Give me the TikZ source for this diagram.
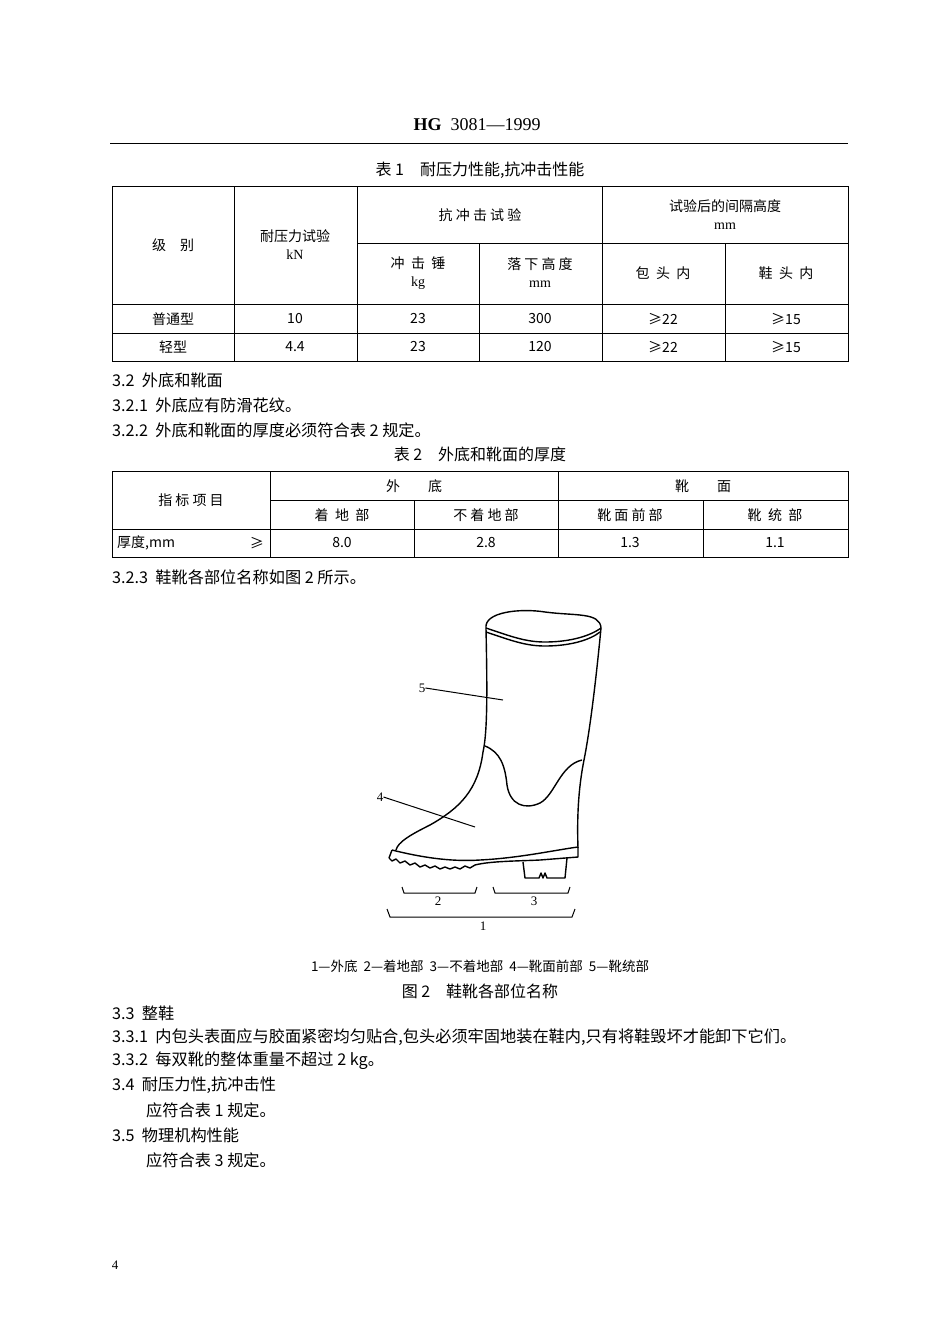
\documentclass[tikz,border=0pt]{standalone}
\usepackage{fontspec}
\setmainfont{Liberation Serif}
\newfontfamily\cjk{Noto Sans CJK SC}
\begin{document}
\begin{tikzpicture}[x=1pt,y=-1pt,
 body/.style={anchor=west,inner sep=0pt,font=\cjk\fontsize{16.2}{16}\selectfont},
 cell/.style={inner sep=0pt,font=\cjk\fontsize{14}{14}\selectfont,align=center},
 tline/.style={line width=0.9pt},
 boot/.style={line width=1.4pt,line join=round}]
\useasboundingbox (0,0) rectangle (950,1344);
% header
\node[inner sep=0pt,font=\fontsize{18}{18}\selectfont] (hdr) at (477,125) {\textbf{HG}\ \ 3081—1999};
\draw[line width=1pt] (110,143) -- (848,143);
\node[cell,font=\cjk\fontsize{16}{16}\selectfont] (t1cap) at (480,170) {表 1\quad 耐压力性能,抗冲击性能};
% table 1
\draw[tline] (112,186) rectangle (848,361);
\foreach \x in {234,357,602} \draw[tline] (\x,186) -- (\x,361);
\foreach \x in {479,725} \draw[tline] (\x,243) -- (\x,361);
\draw[tline] (357,243) -- (848,243);
\draw[tline] (112,304) -- (848,304);
\draw[tline] (112,333) -- (848,333);
\node[cell] (a1) at (173,245) {级\quad 别};
\node[cell] (a2) at (295,245) {耐压力试验\\[4pt]\rmfamily kN};
\node[cell] (a3) at (480,215) {抗 冲 击 试 验};
\node[cell] (a4) at (725,215) {试验后的间隔高度\\[4pt]\rmfamily mm};
\node[cell] (a5) at (418,273) {冲\ \ 击\ \ 锤\\[4pt]\rmfamily kg};
\node[cell] (a6) at (540,273) {落 下 高 度\\[4pt]\rmfamily mm};
\node[cell] (a7) at (663,273) {包\ \ 头\ \ 内};
\node[cell] (a8) at (786,273) {鞋\ \ 头\ \ 内};
\node[cell] (b1) at (173,319) {普通型};
\node[cell] (c1) at (173,347) {轻型};
\foreach \t [count=\i] in {10,23,300,≥22,≥15} {
  \pgfmathsetmacro\xx{{295,418,540,663,786}[\i-1]}
  \node[cell] (b\i x) at (\xx,319) {\t};}
\foreach \t [count=\i] in {4.4,23,120,≥22,≥15} {
  \pgfmathsetmacro\xx{{295,418,540,663,786}[\i-1]}
  \node[cell] (c\i x) at (\xx,347) {\t};}
% text
\node[body] (s32) at (112,380) {3.2\ \ 外底和靴面};
\node[body] (s321) at (112,405) {3.2.1\ \ 外底应有防滑花纹。};
\node[body] (s322) at (112,430) {3.2.2\ \ 外底和靴面的厚度必须符合表 2 规定。};
\node[cell,font=\cjk\fontsize{16}{16}\selectfont] (t2cap) at (480,454) {表 2\quad 外底和靴面的厚度};
% table 2
\draw[tline] (112,471) rectangle (848,557);
\draw[tline] (270,471) -- (270,557);
\draw[tline] (558,471) -- (558,557);
\draw[tline] (414,500) -- (414,557);
\draw[tline] (703,500) -- (703,557);
\draw[tline] (270,500) -- (848,500);
\draw[tline] (112,529) -- (848,529);
\node[cell] (d1) at (191,500) {指 标 项 目};
\node[cell] (d2) at (414,486) {外\qquad 底};
\node[cell] (d3) at (703,486) {靴\qquad 面};
\node[cell] (d4) at (342,515) {着\ \ 地\ \ 部};
\node[cell] (d5) at (486,515) {不 着 地 部};
\node[cell] (d6) at (630,515) {靴 面 前 部};
\node[cell] (d7) at (775,515) {靴\ \ 统\ \ 部};
\node[cell,anchor=west] (e1) at (117,543) {厚度,mm};
\node[cell,anchor=east] (e1b) at (264,543) {≥};
\node[cell] (e2) at (342,543) {8.0};
\node[cell] (e3) at (486,543) {2.8};
\node[cell] (e4) at (630,543) {1.3};
\node[cell] (e5) at (775,543) {1.1};
\node[body] (s323) at (112,577) {3.2.3\ \ 鞋靴各部位名称如图 2 所示。};
% boot
\draw[boot] (486,628) .. controls (484,612) and (520,608) .. (545,612) .. controls (575,616) and (600,612) .. (601,628);
\draw[boot] (486,628) .. controls (510,636) and (525,642) .. (545,642) .. controls (570,642) and (590,636) .. (601,628);
\draw[boot] (486,632) .. controls (510,640) and (525,646) .. (545,646) .. controls (570,646) and (590,640) .. (600,632);
\draw[boot] (486,628) .. controls (487,680) and (488,730) .. (483,752) .. controls (478,790) and (460,808) .. (430,825) .. controls (410,835) and (398,842) .. (396,850);
\draw[boot] (601,628) .. controls (596,680) and (590,730) .. (584,760) .. controls (578,790) and (577,820) .. (578,848);
\draw[boot] (485,746) .. controls (500,752) and (505,765) .. (507,785) .. controls (510,805) and (525,810) .. (540,803) .. controls (555,795) and (560,765) .. (582,760);
% sole
\draw[boot] (392,850) .. controls (420,857) and (450,862) .. (480,860) .. controls (520,858) and (555,850) .. (578,847);
\draw[boot] (392,850) -- (389,858);
\draw[boot] (389,858) -- (392,861) -- (396,859) -- (400,863) -- (405,861) -- (410,865) -- (415,863) -- (420,867) -- (425,865) -- (430,868) -- (435,866) -- (440,869) -- (445,867) -- (450,869) -- (455,867) -- (460,869) -- (465,866) -- (470,868) -- (475,865) .. controls (490,861) and (520,861) .. (540,860) -- (578,857) -- (578,847);
\draw[boot] (523,862) -- (525,878) -- (539,878) -- (541,873) -- (543,878) -- (545,873) -- (547,878) -- (565,878) -- (567,858);
% labels
\node[cell,font=\rmfamily\fontsize{13}{13}\selectfont] (l5) at (422,688) {5};
\node[cell,font=\rmfamily\fontsize{13}{13}\selectfont] (l4) at (380,797) {4};
\coordinate (p5) at (503,700);
\coordinate (p4) at (475,827);
\draw[line width=1pt] (l5.east) -- (p5);
\draw[line width=1pt] (l4.east) -- (p4);
\draw[line width=1pt] (402,887) -- (404,893) -- (475,893) -- (477,887);
\draw[line width=1pt] (493,887) -- (495,893) -- (568,893) -- (570,887);
\draw[line width=1pt] (387,909) -- (390,917) -- (572,917) -- (575,909);
\node[cell,font=\rmfamily\fontsize{13}{13}\selectfont] (l2) at (438,901) {2};
\node[cell,font=\rmfamily\fontsize{13}{13}\selectfont] (l3) at (534,901) {3};
\node[cell,font=\rmfamily\fontsize{13}{13}\selectfont] (l1) at (483,926) {1};
\node[cell,font=\cjk\fontsize{13.5}{13}\selectfont] (leg) at (480,966) {1—外底\ \ 2—着地部\ \ 3—不着地部\ \ 4—靴面前部\ \ 5—靴统部};
\node[cell,font=\cjk\fontsize{16}{16}\selectfont] (f2cap) at (480,991) {图 2\quad 鞋靴各部位名称};
% bottom text
\node[body] (s33) at (112,1013) {3.3\ \ 整鞋};
\node[body] (s331) at (112,1037) {3.3.1\ \ 内包头表面应与胶面紧密均匀贴合,包头必须牢固地装在鞋内,只有将鞋毁坏才能卸下它们。};
\node[body] (s332) at (112,1061) {3.3.2\ \ 每双靴的整体重量不超过 2 kg。};
\node[body] (s34) at (112,1085) {3.4\ \ 耐压力性,抗冲击性};
\node[body] (s34t) at (146,1110) {应符合表 1 规定。};
\node[body] (s35) at (112,1135) {3.5\ \ 物理机构性能};
\node[body] (s35t) at (146,1160) {应符合表 3 规定。};
\node[cell,font=\rmfamily\fontsize{13}{13}\selectfont] (pg) at (115,1265) {4};
\end{tikzpicture}
\end{document}
